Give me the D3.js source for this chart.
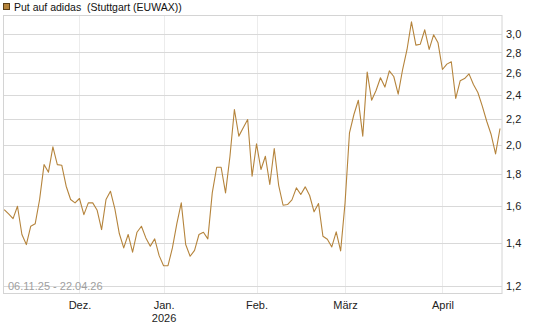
<!DOCTYPE html>
<html>
<head>
<meta charset="utf-8">
<script src="https://cdn.jsdelivr.net/npm/d3@7"></script>
<style>
  body { margin: 0; background: #fff; }
  svg { display: block; font-family: "Liberation Sans", Arial, sans-serif; }
  text { white-space: pre; }
</style>
</head>
<body>
<div id="chart"></div>
<script>
// chart data
const title = "Put auf adidas  (Stuttgart (EUWAX))";
const rangeLabel = "06.11.25 - 22.04.26";
const firstDay = "2025-11-06";
const lastDay = "2026-04-22";
const holidays = ["2025-12-24", "2025-12-25", "2025-12-26", "2025-12-31",
                  "2026-01-01", "2026-04-03", "2026-04-06"];
const prices = [
  1.582, 1.557, 1.531, 1.601, 1.445, 1.393, 1.489, 1.502, 1.641, 1.863,
  1.812, 1.987, 1.863, 1.859, 1.722, 1.641, 1.621, 1.647, 1.553, 1.621,
  1.621, 1.578, 1.471, 1.641, 1.691, 1.586, 1.450, 1.376, 1.445, 1.355,
  1.457, 1.489, 1.427, 1.385, 1.422, 1.338, 1.290, 1.290, 1.376, 1.503,
  1.621, 1.393, 1.335, 1.364, 1.445, 1.457, 1.422, 1.681, 1.845, 1.845,
  1.681, 1.920, 2.276, 2.066, 2.129, 2.195, 1.786, 2.009, 1.830, 1.920,
  1.733, 1.975, 1.728, 1.607, 1.611, 1.639, 1.712, 1.671, 1.718, 1.665,
  1.569, 1.617, 1.436, 1.420, 1.381, 1.459, 1.361, 1.621, 2.091, 2.235,
  2.354, 2.066, 2.607, 2.354, 2.439, 2.554, 2.469, 2.619, 2.566, 2.406,
  2.632, 2.831, 3.130, 2.876, 2.886, 3.041, 2.831, 2.986, 2.900, 2.632,
  2.684, 2.707, 2.369, 2.526, 2.547, 2.591, 2.492, 2.421, 2.304, 2.181,
  2.078, 1.937, 2.124
];
const monthLabels = ["Dez.", "Jan.", "Feb.", "März", "April"];
const yearLabel = "2026";
const yTicks = [1.2, 1.4, 1.6, 1.8, 2.0, 2.2, 2.4, 2.6, 2.8, 3.0];
const yDomain = [1.166, 3.203];

const width = 545, height = 327;
const plot = { left: 3.5, right: 502, top: 15.5, bottom: 293.5 };

const parse = d3.utcParse("%Y-%m-%d");
const fmt = d3.utcFormat("%Y-%m-%d");
const days = d3.utcDay.range(parse(firstDay), d3.utcDay.offset(parse(lastDay), 1))
  .filter(d => d.getUTCDay() % 6 !== 0 && !holidays.includes(fmt(d)));

// first trading day of every new month
const monthStarts = d3.range(1, days.length)
  .filter(i => days[i].getUTCMonth() !== days[i - 1].getUTCMonth());

const x = d3.scaleLinear().domain([0, days.length - 1]).range([4.2, 500]);
const y = d3.scaleLog().domain(yDomain).range([plot.bottom, plot.top]);
const comma = d3.formatLocale({ decimal: ",", thousands: ".", grouping: [3], currency: ["", "€"] }).format(".1f");

const svg = d3.select("#chart").append("svg")
  .attr("width", width)
  .attr("height", height);

// legend
svg.append("rect")
  .attr("x", 3.5).attr("y", 3.5).attr("width", 6).attr("height", 6)
  .attr("fill", "#b5843c").attr("stroke", "#5a3f17");
svg.append("text")
  .attr("x", 14).attr("y", 10.5)
  .attr("font-size", 10.5).attr("fill", "#111")
  .text(title);

// grid
svg.append("g").selectAll("line")
  .data(monthStarts)
  .join("line")
  .attr("x1", d => Math.round(x(d)) + 0.5).attr("x2", d => Math.round(x(d)) + 0.5)
  .attr("y1", plot.top).attr("y2", plot.bottom)
  .attr("stroke", "#ececec");

svg.append("g").selectAll("line")
  .data(yTicks)
  .join("line")
  .attr("x1", plot.left).attr("x2", plot.right)
  .attr("y1", d => Math.round(y(d)) + 0.5).attr("y2", d => Math.round(y(d)) + 0.5)
  .attr("stroke", "#d9d9d9");

svg.append("rect")
  .attr("x", plot.left).attr("y", plot.top)
  .attr("width", plot.right - plot.left).attr("height", plot.bottom - plot.top)
  .attr("fill", "none").attr("stroke", "#d4d4d4");

// axes
const xAxis = svg.append("g")
  .attr("transform", "translate(0," + plot.bottom + ")")
  .call(d3.axisBottom(x).tickValues(monthStarts).tickSize(0).tickPadding(8)
    .tickFormat((d, i) => monthLabels[i]));
xAxis.select(".domain").remove();
xAxis.selectAll("text").attr("font-size", 11).attr("fill", "#222").attr("font-family", null);
xAxis.selectAll(".tick").filter((d, i) => monthLabels[i] === "Jan.")
  .append("text")
  .attr("y", 21).attr("dy", "0.71em")
  .attr("font-size", 11).attr("fill", "#222")
  .text(yearLabel);

const yAxis = svg.append("g")
  .attr("transform", "translate(" + plot.right + ",0)")
  .call(d3.axisRight(y).tickValues(yTicks).tickSize(0).tickPadding(4).tickFormat(comma));
yAxis.select(".domain").remove();
yAxis.selectAll("text").attr("font-size", 11).attr("fill", "#222").attr("font-family", null);

svg.append("text")
  .attr("x", 8).attr("y", 290)
  .attr("font-size", 11).attr("fill", "#a0a0a0")
  .text(rangeLabel);

// price line
svg.append("path")
  .datum(prices)
  .attr("fill", "none")
  .attr("stroke", "#b5843c")
  .attr("stroke-width", 1.1)
  .attr("stroke-linejoin", "round")
  .attr("d", d3.line().x((d, i) => x(i)).y(d => y(d)));
</script>
</body>
</html>
